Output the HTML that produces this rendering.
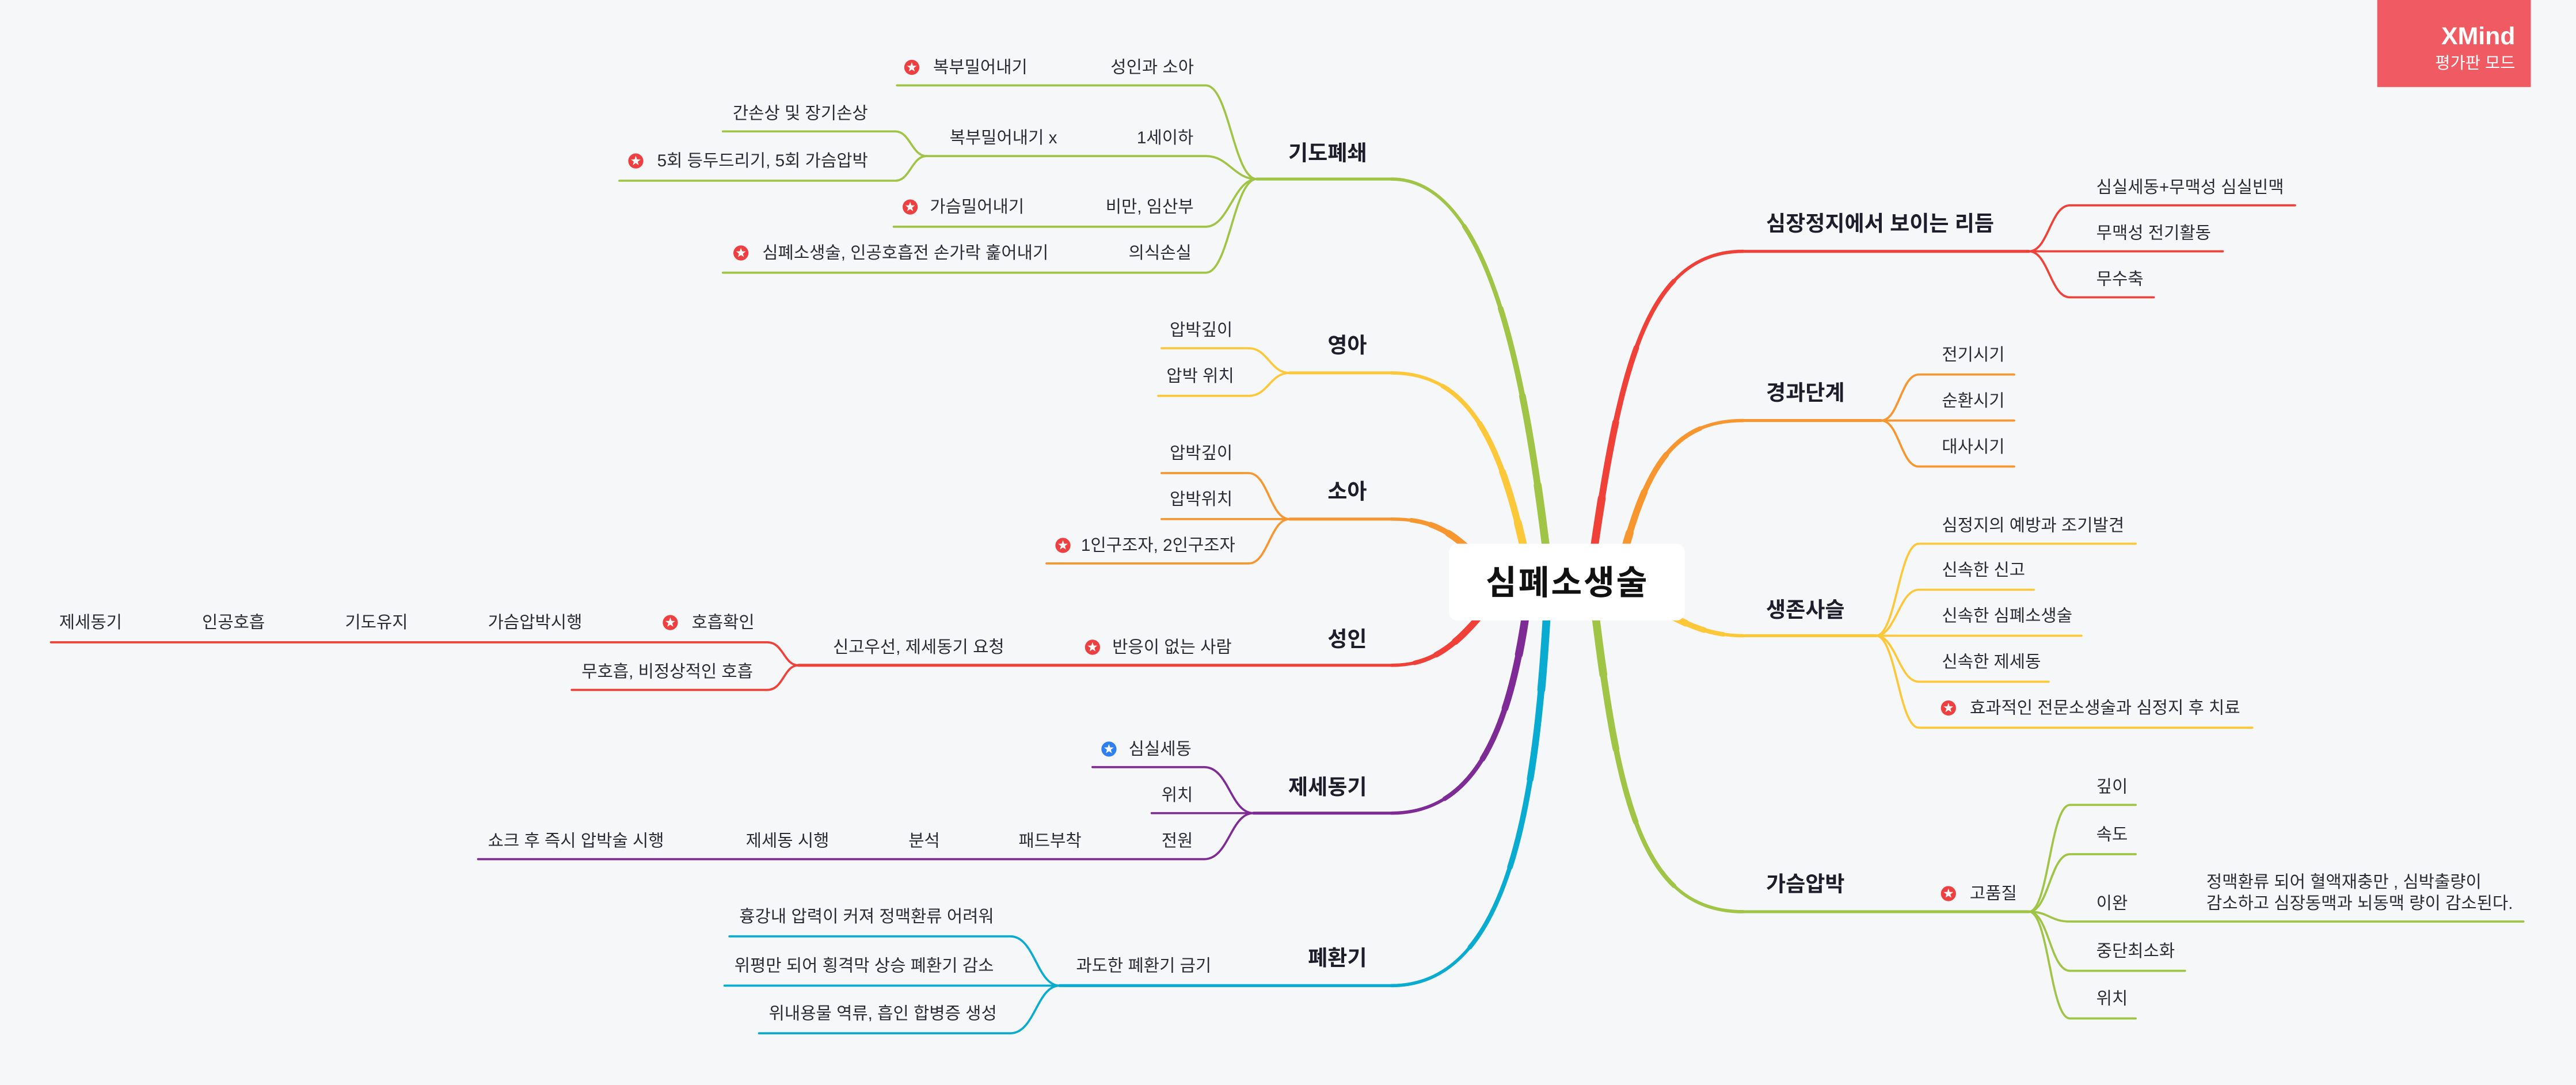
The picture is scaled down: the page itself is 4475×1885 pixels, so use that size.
<!DOCTYPE html>
<html><head><meta charset="utf-8">
<style>
html,body{margin:0;padding:0;background:#f6f7f9;}
svg{display:block;}
text{font-family:"Liberation Sans","Noto Sans CJK KR",sans-serif;fill:#2b2b36;dominant-baseline:central;}
.c{font-size:10.4px;}
.b{font-size:13px;font-weight:bold;fill:#1d1d2b;}
.l{fill:none;stroke-linecap:round;stroke-linejoin:round;}
.t1{stroke-width:2;}
.t2{stroke-width:2.7;stroke-dasharray:80 200;}
.t3{stroke-width:3.4;stroke-dasharray:60 200;}
.t4{stroke-width:4.1;stroke-dasharray:40 200;}
.t5{stroke-width:4.8;stroke-dasharray:20 200;}
</style></head>
<body>
<svg width="4475" height="1885" viewBox="0 0 1568 660.5" preserveAspectRatio="none" xmlns="http://www.w3.org/2000/svg">
<defs>
<g id="st"><circle r="4.6" fill="#ee4040"/><polygon fill="#fff" points="0,-3.1 0.74,-1.02 2.95,-0.96 1.2,0.4 1.82,2.5 0,1.27 -1.82,2.5 -1.2,0.4 -2.95,-0.96 -0.74,-1.02"/></g>
<g id="stb"><circle r="4.6" fill="#2f7ff0"/><polygon fill="#fff" points="0,-3.1 0.74,-1.02 2.95,-0.96 1.2,0.4 1.82,2.5 0,1.27 -1.82,2.5 -1.2,0.4 -2.95,-0.96 -0.74,-1.02"/></g>
<path id="lg" d="M943 350 C928 220 905 109 847 109" pathLength="100"/>
<path id="rg" d="M970 365 C985 490 1000 555 1061 555" pathLength="100"/>
<path id="ly" d="M931 350 C915 270 895 227 847 227" pathLength="100"/>
<path id="ry" d="M1005 368 C1025 380 1040 387 1061 387" pathLength="100"/>
<path id="lo" d="M900 340 C882 322 870 316 847 316" pathLength="100"/>
<path id="ro" d="M985 350 C1000 290 1015 256 1061 256" pathLength="100"/>
<path id="lr" d="M905 370 C885 395 870 405 847 405" pathLength="100"/>
<path id="rr" d="M968 350 C985 230 1000 153 1061 153" pathLength="100"/>
<path id="lp" d="M930 365 C920 440 900 495 847 495" pathLength="100"/>
<path id="lc" d="M942 365 C935 500 915 600 847 600" pathLength="100"/>
</defs>
<rect width="1568" height="660.5" fill="#f6f7f9"/>

<g class="l">
<g stroke="#a0c446">
<use href="#lg" class="t1"/><use href="#lg" class="t2"/><use href="#lg" class="t3"/><use href="#lg" class="t4"/><use href="#lg" class="t5"/>
<use href="#rg" class="t1"/><use href="#rg" class="t2"/><use href="#rg" class="t3"/><use href="#rg" class="t4"/><use href="#rg" class="t5"/>
</g>
<g stroke="#fdc73a">
<use href="#ly" class="t1"/><use href="#ly" class="t2"/><use href="#ly" class="t3"/><use href="#ly" class="t4"/><use href="#ly" class="t5"/>
<use href="#ry" class="t1"/><use href="#ry" class="t2"/><use href="#ry" class="t3"/><use href="#ry" class="t4"/>
</g>
<g stroke="#f7952f">
<use href="#lo" class="t1"/><use href="#lo" class="t2"/><use href="#lo" class="t3"/><use href="#lo" class="t4"/>
<use href="#ro" class="t1"/><use href="#ro" class="t2"/><use href="#ro" class="t3"/><use href="#ro" class="t4"/><use href="#ro" class="t5"/>
</g>
<g stroke="#ef4138">
<use href="#lr" class="t1"/><use href="#lr" class="t2"/><use href="#lr" class="t3"/><use href="#lr" class="t4"/>
<use href="#rr" class="t1"/><use href="#rr" class="t2"/><use href="#rr" class="t3"/><use href="#rr" class="t4"/><use href="#rr" class="t5"/>
</g>
<g stroke="#7f2b95">
<use href="#lp" class="t1"/><use href="#lp" class="t2"/><use href="#lp" class="t3"/><use href="#lp" class="t4"/><use href="#lp" class="t5"/>
</g>
<g stroke="#0aabd0">
<use href="#lc" class="t1"/><use href="#lc" class="t2"/><use href="#lc" class="t3"/><use href="#lc" class="t4"/><use href="#lc" class="t5"/>
</g>
</g>

<g class="l" stroke-width="1.3">
<g stroke="#a0c446">
<path d="M765 109 H847" stroke-width="1.8"/>
<path d="M546 52 H734 C748 52 751 109 765 109"/>
<path d="M564 95 H734 C748 95 751 109 765 109"/>
<path d="M544 138 H734 C748 138 751 109 765 109"/>
<path d="M440 166 H734 C748 166 751 109 765 109"/>
<path d="M440 80 H545 C554 80 555 95 564 95"/>
<path d="M377 110 H545 C554 110 555 95 564 95"/>
<path d="M1061 555 H1235" stroke-width="1.8"/>
<path d="M1235 555 C1247 555 1248 490 1260 490 H1300"/>
<path d="M1235 555 C1247 555 1248 520 1260 520 H1300"/>
<path d="M1235 555 C1247 555 1248 561 1260 561 H1536"/>
<path d="M1235 555 C1247 555 1248 591 1260 591 H1330"/>
<path d="M1235 555 C1247 555 1248 620 1260 620 H1300"/>
</g>
<g stroke="#fdc73a">
<path d="M785 227 H847" stroke-width="1.8"/>
<path d="M707 212 H760 C772 212 773 227 785 227"/>
<path d="M705 241 H760 C772 241 773 227 785 227"/>
<path d="M1061 387 H1142" stroke-width="1.8"/>
<path d="M1142 387 C1154 387 1156 331 1168 331 H1300"/>
<path d="M1142 387 C1154 387 1156 359 1168 359 H1238"/>
<path d="M1142 387 H1267"/>
<path d="M1142 387 C1154 387 1156 415 1168 415 H1247"/>
<path d="M1142 387 C1154 387 1156 443 1168 443 H1371"/>
</g>
<g stroke="#f7952f">
<path d="M785 316 H847" stroke-width="1.8"/>
<path d="M707 288 H760 C772 288 773 316 785 316"/>
<path d="M707 316 H785"/>
<path d="M637 343 H760 C772 343 773 316 785 316"/>
<path d="M1061 256 H1145" stroke-width="1.8"/>
<path d="M1145 256 C1156 256 1157 228 1168 228 H1226"/>
<path d="M1145 256 H1226"/>
<path d="M1145 256 C1156 256 1157 284 1168 284 H1226"/>
</g>
<g stroke="#ef4138">
<path d="M486 405 H847" stroke-width="1.8"/>
<path d="M31 391 H467 C477 391 477 405 486 405"/>
<path d="M348 420 H467 C477 420 477 405 486 405"/>
<path d="M1061 153 H1235" stroke-width="1.8"/>
<path d="M1235 153 C1247 153 1248 125 1260 125 H1397"/>
<path d="M1235 153 H1353"/>
<path d="M1235 153 C1247 153 1248 181 1260 181 H1311"/>
</g>
<g stroke="#7f2b95">
<path d="M763 495 H847" stroke-width="1.8"/>
<path d="M665 467 H733 C748 467 749 495 763 495"/>
<path d="M701 495 H763"/>
<path d="M291 523 H733 C748 523 749 495 763 495"/>
</g>
<g stroke="#0aabd0">
<path d="M645 600 H847" stroke-width="1.8"/>
<path d="M444 570 H615 C630 570 631 600 645 600"/>
<path d="M441 600 H645"/>
<path d="M462 629 H615 C630 629 631 600 645 600"/>
</g>
</g>

<rect x="882" y="331" width="143.5" height="46.7" rx="5" fill="#fff"/>
<text x="954" y="355" text-anchor="middle" style="font-size:20.5px;font-weight:bold;fill:#111;letter-spacing:1px">심폐소생술</text>

<text class="b" x="832" y="93" text-anchor="end">기도폐쇄</text>
<text class="b" x="832" y="210" text-anchor="end">영아</text>
<text class="b" x="832" y="299" text-anchor="end">소아</text>
<text class="b" x="832" y="389" text-anchor="end">성인</text>
<text class="b" x="832" y="479" text-anchor="end">제세동기</text>
<text class="b" x="832" y="583" text-anchor="end">폐환기</text>

<use href="#st" x="555" y="41"/><text class="c" x="568" y="41">복부밀어내기</text>
<text class="c" x="676" y="41">성인과 소아</text>
<text class="c" x="446" y="69">간손상 및 장기손상</text>
<text class="c" x="578" y="84">복부밀어내기 x</text>
<text class="c" x="692" y="84">1세이하</text>
<use href="#st" x="387" y="98"/><text class="c" x="400" y="98">5회 등두드리기, 5회 가슴압박</text>
<use href="#st" x="554" y="126"/><text class="c" x="566" y="126">가슴밀어내기</text>
<text class="c" x="673" y="126">비만, 임산부</text>
<use href="#st" x="451" y="154"/><text class="c" x="464" y="154">심폐소생술, 인공호흡전 손가락 훑어내기</text>
<text class="c" x="687" y="154">의식손실</text>

<text class="c" x="712" y="201">압박깊이</text>
<text class="c" x="710" y="229">압박 위치</text>
<text class="c" x="712" y="276">압박깊이</text>
<text class="c" x="712" y="304">압박위치</text>
<use href="#st" x="647" y="332"/><text class="c" x="658" y="332">1인구조자, 2인구조자</text>

<text class="c" x="36" y="379">제세동기</text>
<text class="c" x="123" y="379">인공호흡</text>
<text class="c" x="210" y="379">기도유지</text>
<text class="c" x="297" y="379">가슴압박시행</text>
<use href="#st" x="408" y="379"/><text class="c" x="421" y="379">호흡확인</text>
<text class="c" x="507" y="394">신고우선, 제세동기 요청</text>
<use href="#st" x="665" y="394"/><text class="c" x="677" y="394">반응이 없는 사람</text>
<text class="c" x="354" y="409">무호흡, 비정상적인 호흡</text>

<use href="#stb" x="675" y="456"/><text class="c" x="687" y="456">심실세동</text>
<text class="c" x="707" y="484">위치</text>
<text class="c" x="297" y="512">쇼크 후 즉시 압박술 시행</text>
<text class="c" x="454" y="512">제세동 시행</text>
<text class="c" x="553" y="512">분석</text>
<text class="c" x="620" y="512">패드부착</text>
<text class="c" x="707" y="512">전원</text>

<text class="c" x="450" y="558">흉강내 압력이 커져 정맥환류 어려워</text>
<text class="c" x="447" y="588">위평만 되어 횡격막 상승 폐환기 감소</text>
<text class="c" x="655" y="588">과도한 폐환기 금기</text>
<text class="c" x="468" y="617">위내용물 역류, 흡인 합병증 생성</text>

<text class="b" x="1075" y="136">심장정지에서 보이는 리듬</text>
<text class="b" x="1075" y="239">경과단계</text>
<text class="b" x="1075" y="371">생존사슬</text>
<text class="b" x="1075" y="538">가슴압박</text>

<text class="c" x="1276" y="114">심실세동+무맥성 심실빈맥</text>
<text class="c" x="1276" y="142">무맥성 전기활동</text>
<text class="c" x="1276" y="170">무수축</text>

<text class="c" x="1182" y="216">전기시기</text>
<text class="c" x="1182" y="244">순환시기</text>
<text class="c" x="1182" y="272">대사시기</text>

<text class="c" x="1182" y="320">심정지의 예방과 조기발견</text>
<text class="c" x="1182" y="347">신속한 신고</text>
<text class="c" x="1182" y="375">신속한 심폐소생술</text>
<text class="c" x="1182" y="403">신속한 제세동</text>
<use href="#st" x="1186" y="431"/><text class="c" x="1199" y="431">효과적인 전문소생술과 심정지 후 치료</text>

<use href="#st" x="1186" y="544"/><text class="c" x="1199" y="544">고품질</text>
<text class="c" x="1276" y="479">깊이</text>
<text class="c" x="1276" y="508">속도</text>
<text class="c" x="1276" y="550">이완</text>
<text class="c" x="1343" y="537">정맥환류 되어 혈액재충만 , 심박출량이</text>
<text class="c" x="1343" y="550">감소하고 심장동맥과 뇌동맥 량이 감소된다.</text>
<text class="c" x="1276" y="579">중단최소화</text>
<text class="c" x="1276" y="608">위치</text>

<rect x="1447" y="0" width="93.5" height="53" fill="#f05b63"/>
<text x="1531" y="22" text-anchor="end" style="font-size:15px;font-weight:bold;fill:#fff">XMind</text>
<text x="1531" y="38.5" text-anchor="end" style="font-size:10px;fill:#fff">평가판 모드</text>
</svg>
</body></html>
